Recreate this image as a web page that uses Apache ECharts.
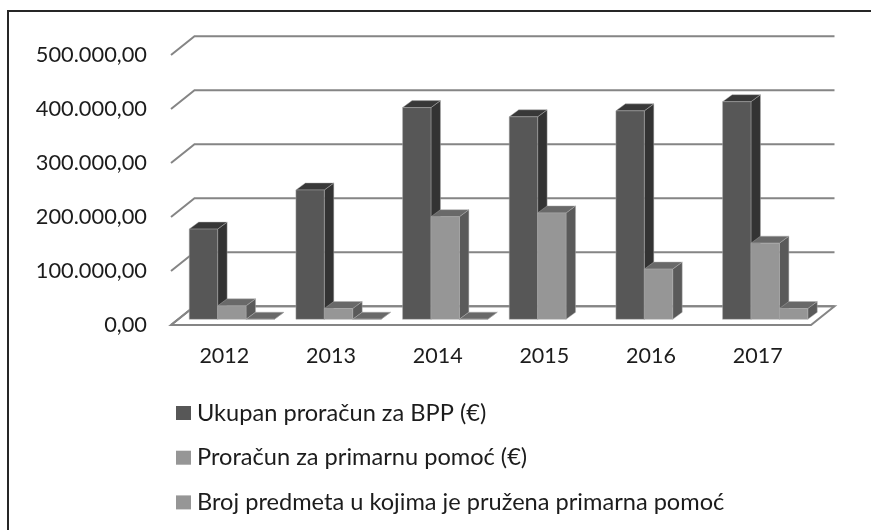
<!DOCTYPE html>
<html>
<head>
<meta charset="utf-8">
<style>
  html, body { margin: 0; padding: 0; background: #fff; }
  #chart { width: 871px; height: 530px; }
</style>
<script src="https://cdn.jsdelivr.net/npm/echarts@6/dist/echarts.min.js"></script>
</head>
<body>
<div id="chart"></div>
<script>
const years = ['2012', '2013', '2014', '2015', '2016', '2017'];
const ukupanProracun = [167000, 239500, 392000, 375000, 386000, 403000];
const primarnaPomoc = [25000, 20000, 190000, 197000, 93000, 141000];
const brojPredmeta = [150, 180, 250, null, null, 20000];
const yTicks = [0, 100000, 200000, 300000, 400000, 500000];
const yLabels = ['0,00', '100.000,00', '200.000,00', '300.000,00', '400.000,00', '500.000,00'];
const seriesNames = [
  'Ukupan proračun za BPP (€)',
  'Proračun za primarnu pomoć (€)',
  'Broj predmeta u kojima je pružena primarna pomoć'
];

const FONT = 'Lato';
const TEXT = '#1c1c1c';
// pomak zadnjeg zida u odnosu na prednji rub poda
const WALL_DX = 23.5, WALL_DY = -18.8;
// stupci stoje malo iza prednjeg ruba i imaju svoju dubinu
const BAR_DX = 7.5, BAR_DY = -5.7, BAR_DEPTH_X = 9.5, BAR_DEPTH_Y = -7;
const BAR_W = 28.4;

let chart = echarts.init(document.getElementById('chart'), null, { renderer: 'canvas' });

// rešetka: lijevi kosi dio + linija po zadnjem zidu
function renderGrid(params, api) {
  let v = api.value(0);
  let left = api.coord([0, v])[0] - api.size([1, 0])[0] / 2;
  let y = api.coord([0, v])[1];
  let right = left + api.size([1, 0])[0] * years.length;
  let line = { stroke: '#858585', lineWidth: 2, fill: null };
  let children = [{
    type: 'polyline',
    shape: { points: [[left, y], [left + WALL_DX, y + WALL_DY], [right + WALL_DX, y + WALL_DY]] },
    style: line
  }];
  if (v === 0) {
    // pod
    children.unshift({
      type: 'polygon',
      shape: { points: [[left, y], [left + WALL_DX, y + WALL_DY], [right + WALL_DX, y + WALL_DY], [right, y]] },
      style: { fill: '#fff', stroke: '#858585', lineWidth: 2 }
    });
  }
  return { type: 'group', children: children };
}

function makeBarRenderer(slot, colors) {
  return function (params, api) {
    if (isNaN(api.value(1))) {
      return null;
    }
    let base = api.coord([api.value(0), 0]);
    let top = api.coord([api.value(0), api.value(1)]);
    let x0 = base[0] + BAR_DX + (slot - 1.5) * BAR_W;
    let x1 = x0 + BAR_W;
    let y0 = base[1] + BAR_DY;
    let y1 = top[1] + BAR_DY;
    let edge = 'rgba(175,175,175,0.75)';
    return {
      type: 'group',
      children: [
        {
          type: 'polygon',
          shape: { points: [[x1, y0], [x1 + BAR_DEPTH_X, y0 + BAR_DEPTH_Y], [x1 + BAR_DEPTH_X, y1 + BAR_DEPTH_Y], [x1, y1]] },
          style: { fill: colors.side, stroke: edge, lineWidth: 0.6 }
        },
        {
          type: 'polygon',
          shape: { points: [[x0, y1], [x0 + BAR_DEPTH_X, y1 + BAR_DEPTH_Y], [x1 + BAR_DEPTH_X, y1 + BAR_DEPTH_Y], [x1, y1]] },
          style: { fill: colors.top, stroke: edge, lineWidth: 0.6 }
        },
        {
          type: 'rect',
          shape: { x: x0, y: y1, width: BAR_W, height: y0 - y1 },
          style: { fill: colors.front, stroke: edge, lineWidth: 0.6 }
        }
      ]
    };
  };
}

const darkBar = { front: '#575757', side: '#333333', top: '#383838' };
const lightBar = { front: '#969696', side: '#5a5a5a', top: '#696969' };

function barData(values) {
  return values.map((v, i) => [i, v]);
}

chart.setOption({
  animation: false,
  backgroundColor: '#fff',
  textStyle: { fontFamily: FONT },
  grid: { left: 171, right: 60, top: 55, bottom: 205 },
  xAxis: {
    type: 'category',
    data: years,
    axisLine: { show: false },
    axisTick: { show: false },
    axisLabel: { color: TEXT, fontFamily: FONT, fontSize: 21.5, margin: 20, interval: 0 }
  },
  yAxis: {
    type: 'value',
    min: 0,
    max: 500000,
    interval: 100000,
    splitLine: { show: false },
    axisLine: { show: false },
    axisTick: { show: false },
    axisLabel: {
      color: TEXT,
      fontFamily: FONT,
      fontSize: 21.8,
      margin: 24,
      padding: [10, 0, 0, 0],
      formatter: (v) => yLabels[yTicks.indexOf(v)]
    }
  },
  legend: {
    orient: 'vertical',
    left: 176,
    top: 401,
    padding: 0,
    itemWidth: 15,
    itemHeight: 14,
    itemGap: 20.7,
    icon: 'rect',
    data: seriesNames,
    selectedMode: false,
    textStyle: { color: TEXT, fontFamily: FONT, fontSize: 23.6, padding: [0, 0, 0, 1] }
  },
  graphic: [{
    type: 'polyline',
    silent: true,
    shape: { points: [[8, 530], [8, 11], [871, 11]] },
    style: { stroke: '#262626', lineWidth: 2, fill: null }
  }],
  series: [
    {
      type: 'custom',
      name: 'mreza',
      coordinateSystem: 'cartesian2d',
      clip: false,
      z: 1,
      encode: { x: 1, y: 0 },
      data: yTicks.map((v) => [v, 0]),
      renderItem: renderGrid
    },
    {
      type: 'custom',
      name: seriesNames[0],
      z: 2,
      clip: false,
      encode: { x: 0, y: 1 },
      itemStyle: { color: darkBar.front },
      data: barData(ukupanProracun),
      renderItem: makeBarRenderer(0, darkBar)
    },
    {
      type: 'custom',
      name: seriesNames[1],
      z: 3,
      clip: false,
      encode: { x: 0, y: 1 },
      itemStyle: { color: lightBar.front },
      data: barData(primarnaPomoc),
      renderItem: makeBarRenderer(1, lightBar)
    },
    {
      type: 'custom',
      name: seriesNames[2],
      z: 4,
      clip: false,
      encode: { x: 0, y: 1 },
      itemStyle: { color: lightBar.front },
      data: barData(brojPredmeta),
      renderItem: makeBarRenderer(2, lightBar)
    }
  ]
});
</script>
</body>
</html>
